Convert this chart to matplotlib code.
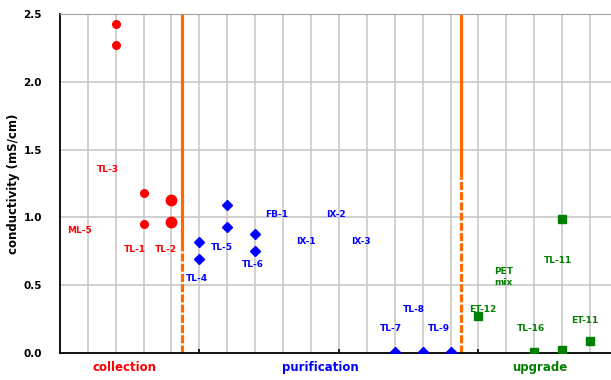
import matplotlib
matplotlib.use('Agg')
import matplotlib.pyplot as plt

# collection (red)
col_x = [2, 2, 3, 3]
col_y = [2.43, 2.27, 1.18, 0.955]
col_big_x = [4, 4]
col_big_y = [1.13, 0.97]
col_labels = ['TL-3', 'ML-5', 'TL-1', 'TL-2']
col_lab_x = [1.73, 0.72, 2.7, 3.8]
col_lab_y = [1.35, 0.90, 0.76, 0.76]

# purification (blue)
pur_x = [5, 5, 6, 6, 7, 7, 12, 13, 14]
pur_y = [0.82, 0.69, 1.09, 0.93, 0.875, 0.75, 0.01, 0.01, 0.01]
pur_labels = ['TL-4', 'TL-5', 'TL-6', 'FB-1', 'IX-1', 'IX-2', 'IX-3', 'TL-7', 'TL-8', 'TL-9']
pur_lab_x = [4.9, 5.8, 6.9, 7.75, 8.8, 9.9, 10.8, 11.85, 12.7, 13.6]
pur_lab_y = [0.55, 0.78, 0.65, 1.02, 0.82, 1.02, 0.82, 0.18, 0.32, 0.18]

# upgrade (green)
upg_x = [15, 17, 18, 18, 19]
upg_y = [0.27, 0.01, 0.99, 0.02, 0.09]
upg_labels = ['ET-12', 'PET\nmix', 'TL-11', 'TL-16', 'ET-11']
upg_lab_x = [15.15, 15.9, 17.85, 16.9, 18.8]
upg_lab_y = [0.32, 0.56, 0.68, 0.18, 0.24]

groups = ['collection', 'purification', 'upgrade']
group_x = [2.3, 9.35, 17.2]
group_col = ['red', 'blue', 'green']
borders = [4.37, 14.37]
border_solid_to = [0.75, 1.3]

fig = plt.figure(figsize=(6.11, 3.80), dpi=100)
ax = fig.add_axes([0.098, 0.071, 0.902, 0.892])
ax.set_xlim(0, 19.75)
ax.set_ylim(0, 2.5)

for v in range(1, 20):
    ax.axvline(v, color='#c8c8c8', lw=1.2, zorder=0)
for h in [0.5, 1.0, 1.5, 2.0, 2.5]:
    ax.axhline(h, color='#c8c8c8', lw=1.2, zorder=0)

for b, s in zip(borders, border_solid_to):
    ax.plot([b, b], [s, 2.5], color='#ff6a00', lw=2.3, zorder=2, solid_capstyle='butt')
    ax.plot([b, b], [0, s], color='#ff6a00', lw=2.3, zorder=2, linestyle=(0, (2.5, 0.7)))

ax.plot(col_x, col_y, 'o', color='red', ms=5.5, zorder=3)
ax.plot(col_big_x, col_big_y, 'o', color='red', ms=7.5, zorder=3)
ax.plot(pur_x, pur_y, 'D', color='blue', ms=5.5, zorder=3)
ax.plot(upg_x, upg_y, 's', color='green', ms=5.5, zorder=3)

for t, x, y in zip(col_labels, col_lab_x, col_lab_y):
    ax.text(x, y, t, color='red', fontsize=6.5, fontweight='heavy', ha='center', va='center')
for t, x, y in zip(pur_labels, pur_lab_x, pur_lab_y):
    ax.text(x, y, t, color='blue', fontsize=6.5, fontweight='heavy', ha='center', va='center')
for t, x, y in zip(upg_labels, upg_lab_x, upg_lab_y):
    ax.text(x, y, t, color='green', fontsize=6.5, fontweight='heavy', ha='center', va='center',
            linespacing=1.2)

for g, x, c in zip(groups, group_x, group_col):
    ax.text(x, -0.11, g, color=c, fontsize=8.5, fontweight='heavy', ha='center', va='center')

ax.set_yticks([0.0, 0.5, 1.0, 1.5, 2.0, 2.5])
ax.set_yticklabels(['0.0', '0.5', '1.0', '1.5', '2.0', '2.5'], fontweight='bold', fontsize=7.5)
ax.set_xticks([5, 10, 15])
ax.set_xticklabels([])
ax.tick_params(axis='x', direction='in', length=3, width=1.2)
ax.tick_params(axis='y', length=0, pad=13)
ax.set_ylabel('conductivity (mS/cm)', fontsize=8.5, fontweight='bold')
ax.yaxis.set_label_coords(-0.072, 0.5)

ax.spines['right'].set_visible(False)
ax.spines['top'].set_color('#a0a0a0')
ax.spines['left'].set_linewidth(1.3)
ax.spines['bottom'].set_linewidth(1.3)

fig.savefig('out.png', dpi=100)
